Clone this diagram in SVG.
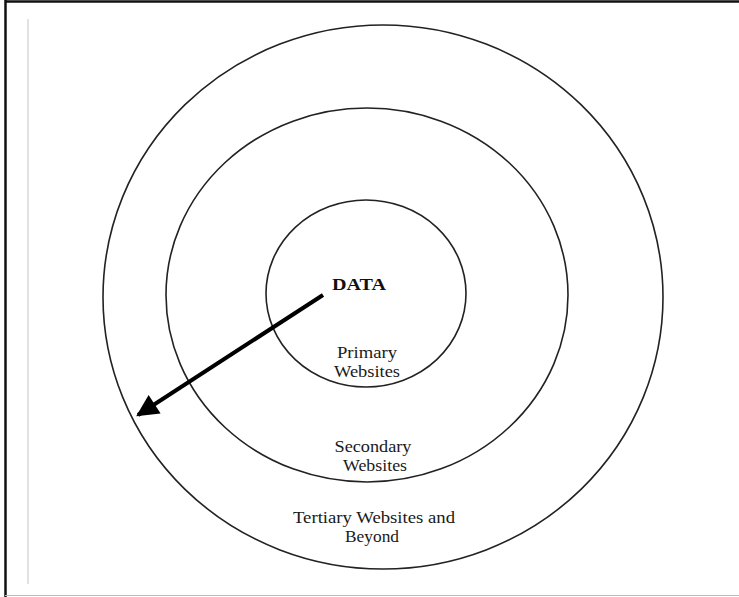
<svg xmlns="http://www.w3.org/2000/svg" width="739" height="597" viewBox="0 0 739 597">
<defs>
<style>
.ring{fill:none;stroke:#222;stroke-width:1.6}
.lbl{font-family:"Liberation Serif","Times New Roman",serif;font-size:17px;fill:#1a1a1a;text-anchor:middle}
.bold{font-weight:bold;font-size:17px;fill:#111}
</style>
<marker id="ah" viewBox="0 0 10 10" refX="9" refY="5" markerWidth="6" markerHeight="5.5" markerUnits="strokeWidth" orient="auto">
<path d="M0,0 L10,5 L0,10 Z" fill="#000"/>
</marker>
</defs>
<rect x="0" y="0" width="739" height="597" fill="#fff"/>
<g id="frame">
<line x1="5" y1="1.5" x2="739" y2="1.5" stroke="#111" stroke-width="2.5"/>
<line x1="5.5" y1="0" x2="5.5" y2="597" stroke="#111" stroke-width="2.5"/>
<line x1="5" y1="595.5" x2="739" y2="595.5" stroke="#bbb" stroke-width="1.2"/>
<line x1="28" y1="19" x2="28" y2="584" stroke="#c4c4c4" stroke-width="1"/>
</g>
<g id="outer">
<ellipse class="ring" cx="383" cy="297" rx="280" ry="272"/>
<text class="lbl" x="374" y="523" textLength="162" lengthAdjust="spacingAndGlyphs">Tertiary Websites and</text>
<text class="lbl" x="372" y="542" textLength="54" lengthAdjust="spacingAndGlyphs">Beyond</text>
</g>
<g id="middle">
<ellipse class="ring" cx="367" cy="295" rx="201" ry="187"/>
<text class="lbl" x="373" y="452" textLength="77" lengthAdjust="spacingAndGlyphs">Secondary</text>
<text class="lbl" x="375" y="471" textLength="64" lengthAdjust="spacingAndGlyphs">Websites</text>
</g>
<g id="inner">
<ellipse class="ring" cx="366" cy="293.5" rx="100" ry="93.5"/>
<text class="lbl" x="367" y="358" textLength="60" lengthAdjust="spacingAndGlyphs">Primary</text>
<text class="lbl" x="367" y="377" textLength="66" lengthAdjust="spacingAndGlyphs">Websites</text>
<text class="lbl bold" x="359" y="290" textLength="54" lengthAdjust="spacingAndGlyphs">DATA</text>
</g>
<g id="connectors">
<line x1="323" y1="295" x2="138" y2="415" stroke="#000" stroke-width="4" marker-end="url(#ah)"/>
</g>
</svg>
